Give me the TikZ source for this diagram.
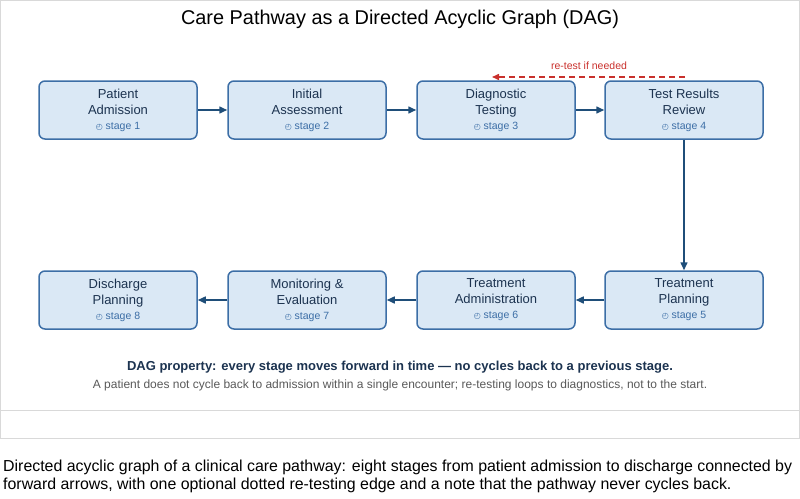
\documentclass[tikz,border=0pt]{standalone}
\usepackage{fontspec}
\setmainfont{Liberation Sans}
\newfontfamily\dejavu{DejaVu Sans}
\usetikzlibrary{arrows.meta}
\definecolor{boxfill}{HTML}{DAE8F5}
\definecolor{boxline}{HTML}{3C6EA6}
\definecolor{arr}{HTML}{1F4E79}
\definecolor{txt}{HTML}{1C3350}
\definecolor{stg}{HTML}{3C6EA6}
\definecolor{red}{HTML}{C9302C}
\begin{document}
\begin{tikzpicture}[x=1pt,y=-1pt,
  stagebox/.style={draw=boxline,fill=boxfill,line width=1.5pt,rounded corners=6pt,minimum width=158pt,minimum height=58pt,align=center,text=txt,font=\fontsize{13}{16}\selectfont,inner sep=0pt},
  flow/.style={draw=arr,line width=1.5pt,-{Triangle[length=8pt,width=7pt]}}]
\useasboundingbox (0,0) rectangle (800,498);
\draw[draw=black!15,line width=1pt] (0.5,0.5) rectangle (799.5,410);
\draw[draw=black!15,line width=1pt] (0.5,410) rectangle (799.5,438);
\node[font=\fontsize{19.9}{22}\selectfont] (title) at (400,19) {Care Pathway as a Directed Acyclic Graph (DAG)};
\newcommand\stg[1]{\\[-1pt]{\fontsize{10.5}{12}\selectfont\color{stg}{\dejavu\fontsize{8}{10}\selectfont ◴} stage #1}}
\node[stagebox] (s1) at (118,110) {Patient\\Admission\stg{1}};
\node[stagebox] (s2) at (307,110) {Initial\\Assessment\stg{2}};
\node[stagebox] (s3) at (496,110) {Diagnostic\\Testing\stg{3}};
\node[stagebox] (s4) at (684,110) {Test Results\\Review\stg{4}};
\node[stagebox] (s5) at (684,300) {Treatment\\Planning\stg{5}};
\node[stagebox] (s6) at (496,300) {Treatment\\Administration\stg{6}};
\node[stagebox] (s7) at (307,300) {Monitoring \&\\Evaluation\stg{7}};
\node[stagebox] (s8) at (118,300) {Discharge\\Planning\stg{8}};
\draw[flow] (s1) -- (s2);
\draw[flow] (s2) -- (s3);
\draw[flow] (s3) -- (s4);
\draw[flow] (s4) -- (s5);
\draw[flow] (s5) -- (s6);
\draw[flow] (s6) -- (s7);
\draw[flow] (s7) -- (s8);
\coordinate (ra) at (685,77);
\coordinate (rb) at (492,77);
\draw[draw=red,line width=1.5pt,dash pattern=on 6pt off 4pt,-{Triangle[length=7pt,width=6pt]}] (ra) -- (rb);
\node[text=red,font=\fontsize{10.5}{12}\selectfont] (rl) at (589,66) {re-test if needed};
\node[text=txt,font=\bfseries\fontsize{13}{15}\selectfont] (dag) at (400,367) {DAG property: every stage moves forward in time — no cycles back to a previous stage.};
\node[text=black!65,font=\fontsize{12}{14}\selectfont] (note) at (400,385) {A patient does not cycle back to admission within a single encounter; re-testing loops to diagnostics, not to the start.};
\node[font=\fontsize{15.9}{18}\selectfont,align=left,anchor=north west,inner sep=0pt] (cap) at (3,460) {Directed acyclic graph of a clinical care pathway: eight stages from patient admission to discharge connected by\\forward arrows, with one optional dotted re-testing edge and a note that the pathway never cycles back.};
\end{tikzpicture}
\end{document}
